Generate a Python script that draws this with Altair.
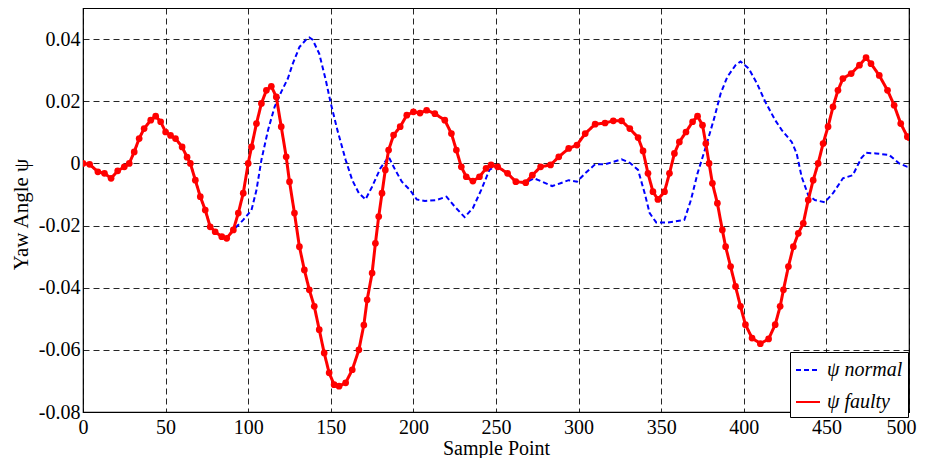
import altair as alt
import pandas as pd

# ---- data ----
faulty_x = [0, 4, 9, 13, 17, 21, 25, 28, 31, 34, 37, 41, 44, 47, 50, 53, 56, 60, 63, 65,
            68, 71, 74, 77, 80, 84, 87, 91, 94, 97, 100, 102, 105, 108, 111, 114, 117, 120,
            123, 125, 128, 131, 134, 137, 140, 143, 146, 149, 152, 155, 159, 163, 167, 170,
            172, 175, 177, 179, 181, 183, 185, 188, 192, 196, 200, 204, 208, 213, 219, 223,
            226, 229, 232, 236, 240, 244, 247, 251, 257, 262, 268, 272, 277, 283, 288, 294,
            299, 304, 310, 316, 321, 326, 331, 336, 339, 342, 345, 348, 352, 355, 358, 361,
            365, 369, 372, 375, 377, 379, 381, 384, 387, 389, 392, 395, 398, 401, 405, 410,
            415, 419, 422, 424, 427, 430, 433, 436, 439, 442, 445, 448, 451, 454, 457, 460,
            465, 470, 474, 477, 482, 487, 491, 495, 499, 500]
faulty_y = [0.0000, -0.0003, -0.0027, -0.0032, -0.0048, -0.0024, -0.0011, 0.0000, 0.0037,
            0.0080, 0.0112, 0.0139, 0.0152, 0.0134, 0.0101, 0.0090, 0.0080, 0.0053, 0.0020,
            0.0000, -0.0054, -0.0107, -0.0150, -0.0204, -0.0220, -0.0236, -0.0241, -0.0214,
            -0.0160, -0.0096, 0.0000, 0.0053, 0.0128, 0.0193, 0.0235, 0.0248, 0.0214, 0.0118,
            0.0021, -0.0059, -0.0160, -0.0268, -0.0343, -0.0407, -0.0460, -0.0535, -0.0610,
            -0.0674, -0.0712, -0.0717, -0.0706, -0.0664, -0.0600, -0.0520, -0.0439, -0.0353,
            -0.0257, -0.0171, -0.0096, -0.0021, 0.0043, 0.0091, 0.0118, 0.0155, 0.0166,
            0.0162, 0.0171, 0.0160, 0.0139, 0.0096, 0.0043, -0.0011, -0.0043, -0.0057,
            -0.0043, -0.0016, -0.0005, -0.0011, -0.0032, -0.0059, -0.0062, -0.0038, -0.0011,
            -0.0005, 0.0021, 0.0048, 0.0059, 0.0096, 0.0126, 0.0130, 0.0137, 0.0137, 0.0112,
            0.0083, 0.0040, -0.0032, -0.0091, -0.0116, -0.0091, -0.0032, 0.0032, 0.0069,
            0.0101, 0.0134, 0.0152, 0.0123, 0.0064, 0.0000, -0.0064, -0.0128, -0.0214,
            -0.0268, -0.0332, -0.0396, -0.0460, -0.0519, -0.0562, -0.0580, -0.0565, -0.0519,
            -0.0460, -0.0407, -0.0332, -0.0268, -0.0225, -0.0193, -0.0118, -0.0054, 0.0000,
            0.0064, 0.0118, 0.0182, 0.0235, 0.0273, 0.0289, 0.0316, 0.0340, 0.0321, 0.0283,
            0.0235, 0.0187, 0.0128, 0.0086, 0.0083]

normal_x = [0, 4, 9, 13, 17, 21, 25, 28, 31, 34, 37, 41, 44, 47, 50, 53, 56, 60, 63, 65,
            68, 71, 74, 77, 80, 84, 87, 91, 97, 102, 105, 108, 112, 116, 120, 124, 127, 131,
            135, 137, 139, 143, 147, 150, 154, 159, 163, 167, 171, 175, 180, 185, 189, 193,
            198, 202, 207, 214, 220, 225, 231, 236, 241, 246, 249, 251, 257, 262, 268, 273,
            278, 284, 289, 294, 299, 304, 310, 316, 321, 326, 331, 336, 340, 343, 347, 354,
            364, 368, 372, 377, 382, 386, 390, 395, 398, 403, 408, 413, 419, 423, 429, 432,
            435, 439, 443, 449, 454, 460, 466, 471, 474, 480, 488, 494, 499, 500]
normal_y = [0.0000, -0.0003, -0.0027, -0.0032, -0.0048, -0.0024, -0.0011, 0.0000, 0.0037,
            0.0080, 0.0112, 0.0139, 0.0152, 0.0134, 0.0101, 0.0090, 0.0080, 0.0053, 0.0020,
            0.0000, -0.0054, -0.0107, -0.0150, -0.0204, -0.0220, -0.0236, -0.0241, -0.0214,
            -0.0182, -0.0150, -0.0086, 0.0011, 0.0107, 0.0182, 0.0230, 0.0273, 0.0321, 0.0374,
            0.0398, 0.0405, 0.0398, 0.0353, 0.0267, 0.0193, 0.0107, 0.0011, -0.0054, -0.0096,
            -0.0116, -0.0075, -0.0016, 0.0021, -0.0021, -0.0059, -0.0086, -0.0116, -0.0121,
            -0.0118, -0.0107, -0.0139, -0.0173, -0.0144, -0.0086, -0.0021, -0.0011, -0.0011,
            -0.0032, -0.0059, -0.0062, -0.0048, -0.0059, -0.0073, -0.0064, -0.0054, -0.0059,
            -0.0032, -0.0003, -0.0003, 0.0005, 0.0013, 0.0002, -0.0021, -0.0096, -0.0160,
            -0.0190, -0.0190, -0.0182, -0.0118, -0.0032, 0.0053, 0.0144, 0.0225, 0.0278,
            0.0316, 0.0328, 0.0305, 0.0257, 0.0198, 0.0139, 0.0107, 0.0069, 0.0032, -0.0043,
            -0.0102, -0.0118, -0.0125, -0.0096, -0.0048, -0.0038, 0.0016, 0.0034, 0.0032,
            0.0027, 0.0000, -0.0011, -0.0011]

x_ticks = [0, 50, 100, 150, 200, 250, 300, 350, 400, 450, 500]
y_ticks = [-0.08, -0.06, -0.04, -0.02, 0, 0.02, 0.04]
series_names = ["ψ normal", "ψ faulty"]
series_colors = ["#0000ff", "#ff0000"]

df = pd.concat([
    pd.DataFrame({"x": normal_x, "y": normal_y, "s": series_names[0]}),
    pd.DataFrame({"x": faulty_x, "y": faulty_y, "s": series_names[1]}),
], ignore_index=True)

FONT = "Liberation Serif"

x_enc = alt.X("x:Q",
              scale=alt.Scale(domain=[0, 500], nice=False, zero=False),
              axis=alt.Axis(values=x_ticks, title="Sample Point", format="d",
                            labelAlign={"condition": {"test": "datum.value == 500", "value": "right"},
                                        "value": "center"},
                            labelOffset={"condition": {"test": "datum.value == 500", "value": 7},
                                         "value": 0},
                            titleX=413, titleY=42, titleBaseline="alphabetic",
                            titleAlign="center"))
y_enc = alt.Y("y:Q",
              scale=alt.Scale(domain=[-0.08, 0.05], nice=False, zero=False),
              axis=alt.Axis(values=y_ticks, title="Yaw Angle ψ",
                            labelExpr="datum.value == 0 ? '0' : (datum.value < 0 ? '-' + format(-datum.value, '.2f') : format(datum.value, '.2f'))",
                            titleX=-62, titleY=206, titleAngle=270, titleFontSize=21,
                            titleAlign="center", titleBaseline="middle"))
color_enc = alt.Color("s:N",
                      scale=alt.Scale(domain=series_names, range=series_colors),
                      legend=alt.Legend(title=None, orient="none", legendX=707, legendY=344,
                                        symbolType="stroke", symbolSize=576,
                                        symbolStrokeWidth=2, labelFont=FONT,
                                        labelFontSize=20, labelFontStyle="italic",
                                        labelColor="black", padding=5, rowPadding=9,
                                        labelOffset=6, strokeColor="black",
                                        fillColor="white", cornerRadius=0))
dash_enc = alt.StrokeDash("s:N",
                          scale=alt.Scale(domain=series_names, range=[[5, 3], [1, 0]]),
                          legend=None)

base = alt.Chart(df)

normal_line = base.transform_filter(alt.datum.s == series_names[0]).mark_line(
    strokeWidth=2, clip=True).encode(x=x_enc, y=y_enc, color=color_enc, strokeDash=dash_enc,
                                      order="x:Q")
faulty_line = base.transform_filter(alt.datum.s == series_names[1]).mark_line(
    strokeWidth=3, clip=True).encode(x=x_enc, y=y_enc, color=color_enc, strokeDash=dash_enc,
                                      order="x:Q")
faulty_pts = base.transform_filter(alt.datum.s == series_names[1]).mark_point(
    filled=True, size=45, opacity=1, clip=True, color="#ff0000").encode(x=x_enc, y=y_enc)

chart = alt.layer(normal_line, faulty_line, faulty_pts).properties(
    width=826, height=404,
    autosize=alt.AutoSizeParams(type="none"),
    padding={"left": 75, "top": 0, "right": 8, "bottom": 46},
).configure_view(
    stroke="black", strokeWidth=1.2
).configure_axis(
    labelFont=FONT, titleFont=FONT, labelFontSize=20, titleFontSize=20,
    labelColor="black", titleColor="black", titleFontWeight="normal",
    domain=False, ticks=False, labelPadding=3,
    grid=True, gridColor="black", gridDash=[6, 4], gridWidth=1, gridOpacity=0.85,
).configure_axisX(labelPadding=5).configure_axisY(labelPadding=3)

chart.save("out.html", embed_options={"renderer": "svg", "actions": False})
